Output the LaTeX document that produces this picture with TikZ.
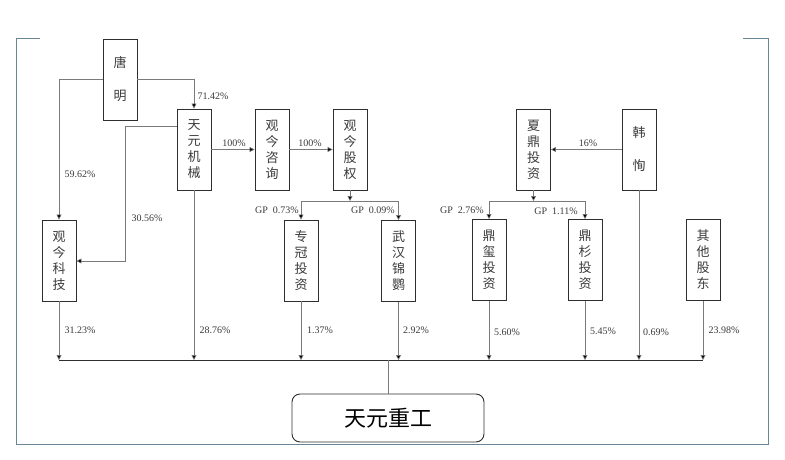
\documentclass[tikz,border=0pt]{standalone}
\usepackage{fontspec}
\setmainfont{Liberation Serif}
\newfontfamily\cjk{Noto Sans CJK SC}
\usetikzlibrary{arrows.meta}
\definecolor{framec}{HTML}{6A8596}
\definecolor{linec}{HTML}{7A7A7A}
\definecolor{boxc}{HTML}{2E2E2E}
\definecolor{txtc}{HTML}{3A3A3A}
\tikzset{
  x=1pt,y=-1pt,
  ent/.style={draw=boxc,line width=0.9pt,minimum width=34pt,minimum height=81pt,inner sep=0pt,
    align=center,text=txtc,font=\cjk\fontsize{13}{16}\selectfont},
  ent2/.style={ent,font=\cjk\fontsize{13}{33}\selectfont},
  conn/.style={draw=linec,line width=0.6pt},
  arr/.style={conn,-{Triangle[width=5pt,length=5pt,fill=black]}},
  pct/.style={font=\fontsize{10}{12}\selectfont,text=txtc,inner sep=0pt},
  bus/.style={draw=boxc,line width=0.9pt},
}
\begin{document}
\begin{tikzpicture}
\useasboundingbox (0,0) rectangle (785,460);
\draw[framec,line width=0.8pt] (40,38) -- (16,38) -- (16,444) -- (768,444) -- (768,38) -- (743,38);
% top row
\node[ent2] (tang) at (120,79.5) {唐\\明};
\node[ent] (tjx) at (194,149.5) {天\\元\\机\\械};
\node[ent] (gjzx) at (272,149.5) {观\\今\\咨\\询};
\node[ent] (gjgq) at (350,149.5) {观\\今\\股\\权};
\node[ent] (xd) at (533.5,149.5) {夏\\鼎\\投\\资};
\node[ent2] (hx) at (639,149.5) {韩\\恂};
% second row
\node[ent] (gjkj) at (59,260.5) {观\\今\\科\\技};
\node[ent] (zg) at (301,260.5) {专\\冠\\投\\资};
\node[ent] (wh) at (398.5,261) {武\\汉\\锦\\鹦};
\node[ent] (dx) at (489,260) {鼎\\玺\\投\\资};
\node[ent] (ds) at (585,260) {鼎\\杉\\投\\资};
\node[ent] (qt) at (703,260) {其\\他\\股\\东};
% bottom
\node[draw=boxc,line width=0.9pt,rounded corners=8pt,minimum width=192pt,minimum height=48pt,
  font=\cjk\fontsize{22}{24}\selectfont,text=black] (tyzg) at (388,418) {天元重工};
\coordinate (busy) at (0,360);
\coordinate (gpy) at (0,201);
\coordinate (k1) at (125,261);
% connectors
\draw[arr] (tang.west) -| (gjkj.north);
\draw[arr] (tang.east) -| (tjx.north);
\draw[arr] (tjx.east) -- (gjzx.west);
\draw[arr] (gjzx.east) -- (gjgq.west);
\draw[arr] (hx.west) -- (xd.east);
\draw[arr] ([yshift=23.5pt]tjx.west) -| (k1) -- (k1 -| gjkj.east);
\draw[arr] (gjgq.south) -- (gjgq.south |- gpy);
\draw[conn] (zg.north |- gpy) -- (wh.north |- gpy);
\draw[arr] (zg.north |- gpy) -- (zg.north);
\draw[arr] (wh.north |- gpy) -- (wh.north);
\draw[arr] (xd.south) -- (xd.south |- gpy);
\draw[conn] (dx.north |- gpy) -- (ds.north |- gpy);
\draw[arr] (dx.north |- gpy) -- (dx.north);
\draw[arr] (ds.north |- gpy) -- (ds.north);
\draw[bus] (gjkj.south |- busy) -- (qt.south |- busy);
\foreach \n in {gjkj,tjx,zg,wh,dx,ds,hx,qt}{\draw[arr] (\n.south) -- (\n.south |- busy);}
\draw[conn] (tyzg.north) -- (tyzg.north |- busy);
% labels
\node[pct] (l1) at (80,174) {59.62\%};
\node[pct] (l2) at (213,96) {71.42\%};
\node[pct] (l3) at (234,143) {100\%};
\node[pct] (l4) at (310,143) {100\%};
\node[pct] (l5) at (147,218) {30.56\%};
\node[pct] (l6) at (277,210) {GP\ \ 0.73\%};
\node[pct] (l7) at (373,210) {GP\ \ 0.09\%};
\node[pct] (l8) at (462,210) {GP\ \ 2.76\%};
\node[pct] (l9) at (556,211) {GP\ \ 1.11\%};
\node[pct] (l10) at (588,143) {16\%};
\node[pct] (b1) at (80,330) {31.23\%};
\node[pct] (b2) at (215,330) {28.76\%};
\node[pct] (b3) at (320,330) {1.37\%};
\node[pct] (b4) at (416,330) {2.92\%};
\node[pct] (b5) at (507,332) {5.60\%};
\node[pct] (b6) at (603,331) {5.45\%};
\node[pct] (b7) at (656,332) {0.69\%};
\node[pct] (b8) at (724,330) {23.98\%};
\end{tikzpicture}
\end{document}
